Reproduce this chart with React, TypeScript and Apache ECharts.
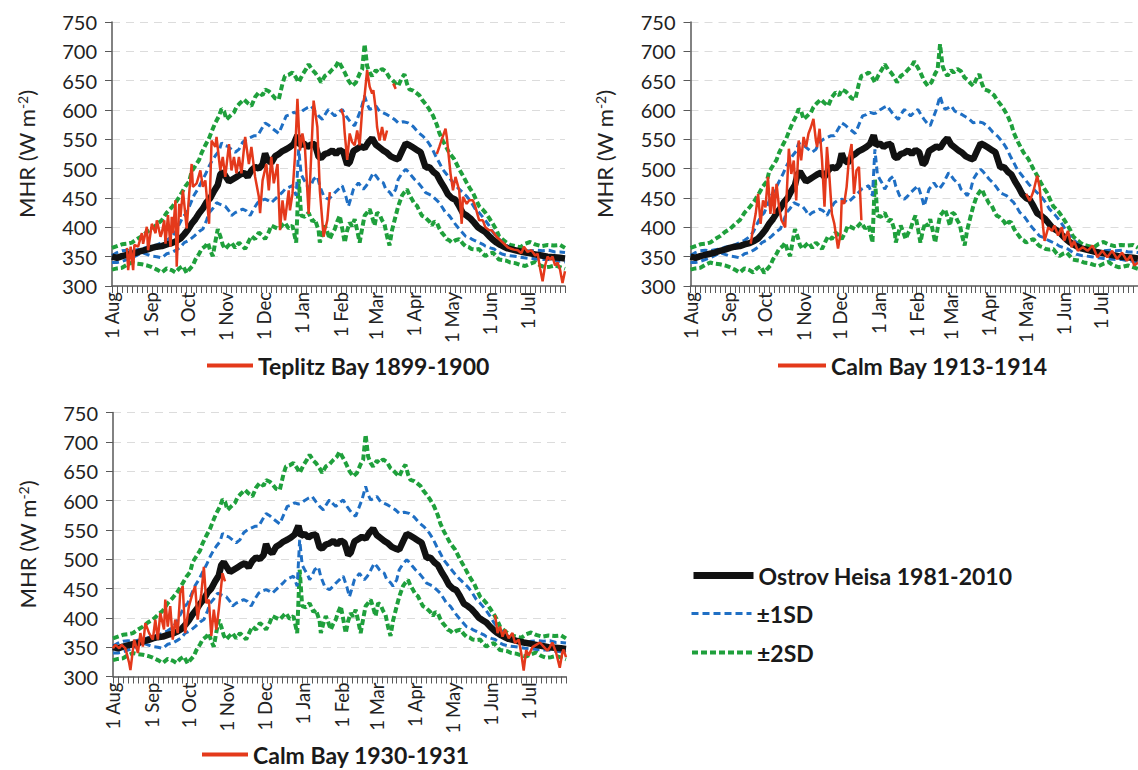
import React, { useEffect, useRef } from "react";
import * as echarts from "echarts";

// ---- axis data ----
const DAYS = 365;
const monthStarts = [0, 31, 61, 92, 122, 153, 184, 212, 243, 273, 304, 334];
const monthLabels = ["1 Aug", "1 Sep", "1 Oct", "1 Nov", "1 Dec", "1 Jan", "1 Feb", "1 Mar", "1 Apr", "1 May", "1 Jun", "1 Jul"];
const yTicks = [300, 350, 400, 450, 500, 550, 600, 650, 700, 750];

// ---- Ostrov Heisa 1981-2010 climatology (day index from 1 Aug, MHR W m-2) ----
const meanLine = [[0,350],[4,348],[8,351],[12,353],[16,355],[20,357],[24,360],[28,362],[32,365],[36,367],[40,368],[44,371],[48,373],[52,377],[55,381],[58,388],[61,396],[64,406],[67,414],[70,424],[73,432],[76,443],[79,450],[82,462],[85,472],[87,490],[89,495],[91,488],[94,478],[97,482],[100,486],[103,490],[106,493],[109,486],[112,497],[115,503],[118,500],[121,507],[123,526],[125,515],[128,510],[131,521],[134,525],[137,530],[140,533],[143,537],[146,542],[149,557],[151,540],[154,543],[157,537],[160,541],[163,542],[166,520],[168,518],[171,525],[174,527],[177,531],[180,525],[183,532],[186,528],[189,507],[191,511],[194,530],[197,534],[200,538],[203,535],[206,545],[209,552],[212,541],[215,536],[218,531],[221,527],[224,521],[227,518],[230,516],[233,530],[236,543],[239,540],[242,536],[245,532],[248,528],[250,515],[252,502],[255,503],[258,495],[261,490],[264,478],[267,468],[270,456],[273,450],[276,447],[279,436],[282,424],[285,420],[288,415],[291,408],[294,400],[297,396],[300,392],[303,385],[306,379],[309,374],[312,370],[315,367],[318,364],[322,362],[326,360],[330,358],[335,356],[340,354],[345,352],[350,350],[355,349],[360,348],[364,347]];

const plus2SD = [[0,365],[4,368],[8,371],[12,372],[16,374],[20,380],[24,385],[28,392],[32,397],[36,405],[40,412],[44,425],[48,434],[52,445],[56,459],[59,470],[62,478],[64,495],[67,505],[70,515],[72,527],[75,540],[78,552],[81,568],[83,578],[86,590],[88,602],[90,598],[92,584],[95,590],[98,596],[100,605],[103,612],[106,618],[109,612],[112,607],[115,622],[118,630],[121,625],[123,635],[126,632],[128,628],[131,620],[134,618],[137,645],[139,658],[142,660],[145,664],[148,655],[150,647],[153,660],[156,670],[158,678],[161,668],[163,664],[166,655],[168,647],[171,658],[174,662],[177,669],[180,675],[182,683],[185,672],[187,664],[190,650],[193,641],[196,647],[199,662],[201,669],[203,712],[205,675],[207,664],[209,658],[212,668],[214,664],[217,670],[220,666],[223,655],[225,652],[228,645],[230,641],[233,655],[235,661],[237,645],[239,635],[242,633],[244,630],[247,625],[249,618],[252,610],[255,601],[258,590],[261,575],[263,561],[266,547],[269,535],[271,527],[275,516],[279,499],[282,488],[285,476],[288,465],[290,459],[293,445],[295,436],[298,430],[300,425],[303,416],[306,406],[309,395],[311,385],[314,379],[317,374],[320,370],[324,368],[328,366],[332,372],[336,375],[340,371],[345,368],[350,370],[355,369],[360,370],[364,365]];

const minus2SD = [[0,328],[4,330],[8,331],[12,336],[16,340],[20,338],[24,337],[28,335],[32,332],[36,328],[40,323],[44,330],[48,327],[51,323],[54,330],[57,334],[60,322],[62,328],[65,335],[67,345],[70,355],[72,363],[75,368],[77,374],[79,360],[81,351],[83,375],[85,397],[87,385],[89,370],[91,363],[93,368],[96,374],[99,365],[102,374],[105,368],[107,363],[110,377],[112,385],[115,380],[118,391],[121,386],[123,380],[126,392],[128,403],[131,400],[134,397],[137,404],[139,408],[142,398],[145,403],[148,374],[150,482],[152,420],[155,418],[158,425],[161,410],[163,414],[166,395],[167,374],[169,390],[171,403],[173,392],[175,380],[177,390],[179,397],[181,410],[183,420],[185,398],[187,374],[189,395],[191,408],[193,402],[195,414],[197,395],[199,374],[201,398],[203,420],[205,425],[207,431],[209,418],[211,403],[213,425],[215,422],[217,412],[219,405],[221,385],[223,369],[225,395],[228,420],[230,436],[233,454],[235,460],[237,465],[239,455],[241,448],[243,440],[245,437],[247,428],[249,420],[251,418],[253,414],[255,410],[257,403],[259,410],[261,408],[263,398],[265,391],[267,386],[269,380],[271,378],[273,374],[276,378],[279,380],[282,372],[284,368],[287,366],[289,363],[292,362],[295,363],[298,355],[300,351],[303,355],[306,357],[309,350],[311,345],[314,344],[317,343],[320,340],[324,339],[328,336],[332,334],[336,338],[340,341],[344,335],[348,332],[352,333],[356,335],[360,332],[364,329]];

const plus1SD = [[0,352],[4,357],[8,360],[12,361],[16,360],[20,362],[24,363],[28,366],[32,368],[36,370],[40,374],[44,378],[48,384],[51,392],[54,405],[57,418],[60,425],[63,440],[66,455],[69,465],[72,478],[75,490],[78,504],[80,512],[83,522],[86,530],[88,544],[90,540],[93,538],[96,533],[99,528],[102,533],[105,545],[108,550],[111,553],[114,556],[117,556],[120,567],[123,578],[126,574],[128,570],[131,565],[134,560],[137,575],[140,590],[143,592],[146,596],[149,594],[151,595],[154,600],[157,604],[160,607],[163,598],[166,590],[169,584],[172,595],[174,601],[177,594],[179,590],[182,596],[185,601],[188,590],[190,584],[193,576],[195,573],[198,590],[200,601],[203,624],[205,610],[207,601],[210,604],[212,607],[215,598],[218,595],[221,592],[224,588],[227,584],[230,578],[234,580],[238,578],[242,572],[246,562],[250,555],[254,545],[257,535],[260,522],[263,510],[266,498],[269,490],[272,482],[275,474],[279,465],[282,459],[285,453],[288,445],[292,431],[295,425],[297,420],[300,412],[303,403],[306,392],[309,384],[312,378],[315,372],[318,368],[322,363],[326,360],[331,358],[336,360],[341,361],[346,360],[351,361],[356,358],[360,358],[364,357]];

const minus1SD = [[0,340],[4,340],[8,342],[12,345],[16,348],[20,352],[24,357],[28,354],[32,351],[36,350],[40,348],[44,355],[48,357],[52,362],[55,366],[58,374],[62,378],[66,385],[70,393],[73,397],[76,412],[78,425],[81,432],[84,442],[86,440],[89,437],[91,436],[94,428],[96,420],[99,425],[102,428],[105,431],[108,428],[111,420],[114,432],[117,442],[120,446],[123,448],[126,445],[128,442],[131,448],[134,454],[137,460],[139,465],[142,468],[145,471],[148,454],[150,533],[152,490],[154,482],[156,475],[158,465],[160,472],[162,482],[165,487],[167,470],[170,454],[172,450],[174,448],[177,454],[179,459],[182,465],[185,471],[188,452],[190,436],[192,450],[194,465],[196,470],[198,476],[200,470],[202,465],[204,470],[206,476],[208,485],[210,493],[212,488],[214,482],[216,478],[218,476],[220,465],[223,460],[225,454],[228,465],[230,482],[233,492],[236,499],[238,495],[241,487],[243,482],[246,476],[249,468],[252,459],[255,456],[257,454],[260,448],[263,442],[266,432],[268,425],[271,420],[273,414],[276,405],[279,397],[282,390],[284,385],[287,383],[289,380],[292,377],[295,374],[298,371],[300,368],[304,365],[307,363],[311,357],[314,354],[318,352],[322,351],[326,350],[331,348],[336,347],[341,346],[346,345],[351,345],[356,343],[360,342],[364,341]];

// ---- observed expedition series (segments) ----
const teplitzA = [[12,365],[13,327],[15,367],[17,327],[18,370],[21,367],[24,390],[25,372],[28,401],[29,361],[32,406],[35,390],[36,412],[39,384],[40,390],[42,412],[43,372],[45,421],[47,367],[48,418],[49,390],[51,446],[52,333],[54,440],[55,418],[57,463],[60,398],[62,457],[64,508],[65,469],[68,475],[71,497],[73,469],[75,480],[78,406],[80,548],[83,537],[84,554],[87,497],[89,520],[91,486],[94,542],[96,497],[98,520],[100,492],[102,520],[104,492],[107,554],[110,508],[112,537],[115,486],[118,452],[119,424],[121,480],[124,508],[126,463],[128,520],[130,475],[133,508],[135,395],[137,446],[139,412],[142,463],[143,429],[145,457],[147,520],[149,619],[151,531],[153,560],[155,537],[158,423],[162,616],[165,571],[167,463],[170,384],[173,412],[175,460]];
const teplitzB = [[184,602],[186,590],[187,560],[189,515],[191,560],[193,545],[195,540],[197,565],[199,540],[201,600],[203,625],[205,668],[207,640],[209,628],[210,634],[212,600],[213,571],[215,548],[217,571],[219,548],[221,565]];
const teplitzC = [[226,645],[228,636]];
const teplitzD = [[261,525],[263,537],[265,550],[268,568],[269,554],[272,492],[274,463],[276,486],[279,463],[281,406],[282,452],[285,440],[287,446],[290,446],[292,435],[295,412],[298,412],[300,400],[303,395],[305,395],[307,390],[309,384],[312,378],[315,372],[318,366],[320,364],[323,362],[326,361],[329,356],[331,367],[334,358],[337,361],[340,352],[342,355],[344,330],[346,308],[348,335],[350,350],[352,345],[354,350],[356,335],[358,340],[360,328],[362,305],[364,325]];

const calm1913A = [[49,372],[51,400],[53,423],[55,457],[57,406],[59,446],[61,434],[63,486],[65,423],[67,469],[68,423],[70,474],[72,435],[74,412],[77,400],[80,534],[82,491],[84,514],[86,446],[88,548],[90,514],[92,554],[94,537],[96,560],[98,571],[100,585],[102,548],[103,537],[105,568],[107,514],[109,435],[111,537],[113,486],[115,423],[117,406],[119,378],[120,364],[122,389],[123,446],[125,440],[127,469],[129,520],[131,542],[133,457],[135,497],[137,503],[139,412]];
const calm1913B = [[273,457],[276,445],[279,462],[282,488],[284,468],[286,417],[288,377],[291,400],[294,394],[296,403],[299,386],[302,400],[304,377],[307,394],[310,366],[312,377],[315,360],[319,366],[323,360],[327,369],[331,349],[335,360],[339,349],[343,360],[347,346],[351,357],[355,343],[358,352],[361,335],[364,340]];

const calm1930A = [[0,348],[2,354],[5,348],[7,354],[10,348],[13,323],[14,311],[17,363],[20,340],[22,374],[24,351],[26,391],[29,374],[32,363],[34,397],[36,363],[38,408],[41,380],[42,431],[44,385],[46,420],[48,363],[50,397],[52,374],[54,442],[56,454],[58,374],[61,420],[64,442],[66,454],[68,397],[71,442],[73,487],[75,425],[77,431],[79,369],[81,414],[83,380],[85,414],[88,476],[90,462]];
const calm1930B = [[307,405],[309,374],[311,385],[313,368],[315,380],[318,365],[321,374],[323,357],[326,363],[328,340],[330,310],[332,345],[334,336],[337,350],[340,354],[343,358],[346,351],[349,344],[351,350],[353,358],[356,341],[359,315],[361,340],[362,346],[364,333]];

const panelNames = ["Teplitz Bay 1899-1900", "Calm Bay 1913-1914", "Calm Bay 1930-1931"];
const climNames = ["Ostrov Heisa 1981-2010", "±1SD", "±2SD"];

const FONT = "Lato, 'Open Sans', sans-serif";
const RED = "#e4391b";
const BLUE = "#1f6fc4";
const GREEN = "#1fa03c";
const BLACK = "#111111";

function joinSegments(...segs: number[][][]) {
  const out: any[] = [];
  segs.forEach((s, i) => {
    if (i > 0) out.push([s[0][0] - 1, null]);
    s.forEach((p) => out.push(p));
  });
  return out;
}

export default function App() {
  const ref = useRef<HTMLDivElement>(null);
  useEffect(() => {
    const chart = echarts.init(ref.current!, null, { renderer: "svg" });
    const cats = Array.from({ length: DAYS }, (_, i) => {
      const k = monthStarts.indexOf(i);
      return k >= 0 ? monthLabels[k] : "d" + i;
    });
    const grids = [
      { left: 112, top: 22, width: 453, height: 264 },
      { left: 690.5, top: 22, width: 453, height: 264 },
      { left: 113, top: 412.5, width: 453, height: 264 },
    ];
    const xAxes = grids.map((_, gi) => ({
      type: "category",
      gridIndex: gi,
      data: cats,
      boundaryGap: false,
      axisLine: { lineStyle: { color: "#595959", width: 1.5 } },
      axisTick: { interval: (i: number) => i % 4 === 0, length: 7, lineStyle: { color: "#595959", width: 1 } },
      axisLabel: {
        interval: (i: number) => monthStarts.indexOf(i) >= 0,
        rotate: 90,
        margin: 6,
        fontSize: 18.5,
        color: "#222",
        fontFamily: FONT,
      },
      splitLine: { show: false },
    }));
    const yAxes = grids.map((_, gi) => ({
      type: "value",
      gridIndex: gi,
      min: yTicks[0],
      max: yTicks[yTicks.length - 1],
      interval: 50,
      name: "MHR (W m{sup|-2})",
      nameLocation: "middle",
      nameGap: 75,
      nameTextStyle: {
        fontSize: 22,
        color: "#222",
        fontFamily: FONT,
        rich: { sup: { fontSize: 14, verticalAlign: "top", fontFamily: FONT, color: "#222" } },
      },
      axisLine: { show: true, lineStyle: { color: "#595959", width: 1.5 } },
      axisTick: { show: true, length: 7, lineStyle: { color: "#595959" } },
      axisLabel: { fontSize: 20, color: "#222", margin: 15, fontFamily: FONT },
      splitLine: { show: true, lineStyle: { color: "#dcdcdc", type: [8, 6], width: 1 } },
    }));
    const reds = [
      joinSegments(teplitzA, teplitzB, teplitzC, teplitzD),
      joinSegments(calm1913A, calm1913B),
      joinSegments(calm1930A, calm1930B),
    ];
    const series: any[] = [];
    grids.forEach((_, gi) => {
      const base = { type: "line", xAxisIndex: gi, yAxisIndex: gi, symbol: "none", showSymbol: false, smooth: false, connectNulls: false };
      series.push({ ...base, name: climNames[2], data: plus2SD, lineStyle: { color: GREEN, width: 4, type: [6, 3] }, itemStyle: { color: GREEN } });
      series.push({ ...base, name: climNames[2], data: minus2SD, lineStyle: { color: GREEN, width: 4, type: [6, 3] }, itemStyle: { color: GREEN } });
      series.push({ ...base, name: climNames[1], data: plus1SD, lineStyle: { color: BLUE, width: 3, type: [7, 4] }, itemStyle: { color: BLUE } });
      series.push({ ...base, name: climNames[1], data: minus1SD, lineStyle: { color: BLUE, width: 3, type: [7, 4] }, itemStyle: { color: BLUE } });
      series.push({ ...base, name: climNames[0], data: meanLine, lineStyle: { color: BLACK, width: 6.5 }, itemStyle: { color: BLACK } });
      series.push({ ...base, name: panelNames[gi], data: reds[gi], lineStyle: { color: RED, width: 2.5 }, itemStyle: { color: RED } });
    });
    const legendText = { fontSize: 23, fontWeight: "bold", color: "#1a1a1a", fontFamily: FONT };
    const mkLegend = (name: string, left: number, top: number, w: number, ls: any) => ({
      data: [name],
      left,
      top,
      padding: 0,
      itemWidth: w,
      itemHeight: 14,
      selectedMode: false,
      textStyle: legendText,
      itemStyle: { opacity: 0 },
      lineStyle: ls,
    });
    const legend = [
      mkLegend(panelNames[0], 205, 354, 46, { width: 4, color: RED, type: "solid" }),
      mkLegend(panelNames[1], 776, 354, 48, { width: 4, color: RED, type: "solid" }),
      mkLegend(panelNames[2], 200, 743, 46, { width: 4, color: RED, type: "solid" }),
      mkLegend(climNames[0], 690, 564, 60, { width: 7, color: BLACK, type: "solid" }),
      mkLegend(climNames[1], 690, 602, 60, { width: 3, color: BLUE, type: [7, 4] }),
      mkLegend(climNames[2], 690, 641, 60, { width: 4, color: GREEN, type: [6, 3] }),
    ];
    chart.setOption({
      animation: false,
      backgroundColor: "#ffffff",
      grid: grids,
      xAxis: xAxes,
      yAxis: yAxes,
      legend,
      series,
    });
    return () => chart.dispose();
  }, []);
  return <div ref={ref} style={{ position: "fixed", left: 0, top: 0, width: 1138, height: 770 }} />;
}
